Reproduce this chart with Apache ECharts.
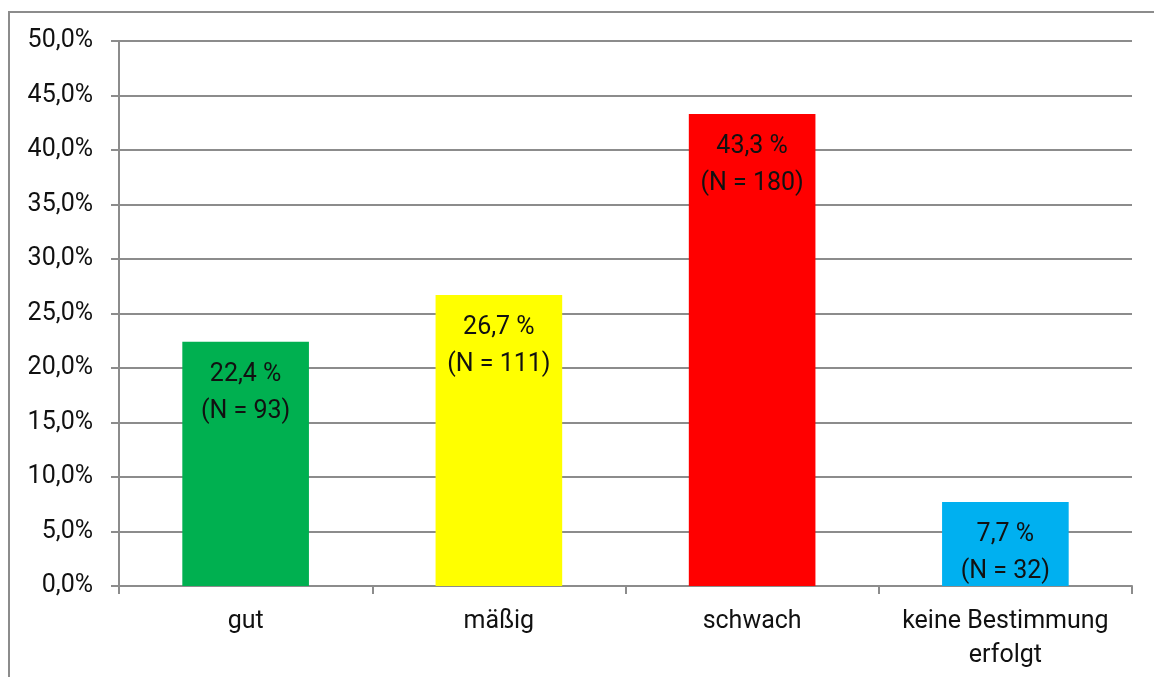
<!DOCTYPE html>
<html><head><meta charset="utf-8">
<script src="https://cdn.jsdelivr.net/npm/echarts@6/dist/echarts.min.js"></script>
<style>html,body{margin:0;padding:0;background:#fff}#c{width:1154px;height:677px}</style>
</head><body><div id="c"></div>
<script>
const categories = ['gut', 'mäßig', 'schwach', 'keine Bestimmung\nerfolgt'];
const percentValues = [22.4, 26.7, 43.3, 7.7];
const counts = [93, 111, 180, 32];
const barColors = ['#00B050', '#FFFF00', '#FF0000', '#00B0F0'];

const chart = echarts.init(document.getElementById('c'), null, {renderer: 'canvas'});
const font = 'Roboto, "Liberation Sans", sans-serif';
const fmt = v => v.toFixed(1).replace('.', ',');
chart.setOption({
  animation: false,
  backgroundColor: '#fff',
  graphic: [{
    type: 'rect', shape: {x: 9, y: 12, width: 1300, height: 800},
    style: {fill: 'none', stroke: '#8c8c8c', lineWidth: 2}, silent: true
  }],
  grid: {left: 119, right: 22, top: 41, bottom: 91},
  xAxis: {
    type: 'category', data: categories,
    axisLine: {lineStyle: {color: '#8c8c8c', width: 2}},
    axisTick: {show: true, length: 8, lineStyle: {color: '#8c8c8c', width: 2}},
    axisLabel: {color: '#111', fontSize: 25, fontFamily: font, margin: 19, lineHeight: 34,
      interval: 0, hideOverlap: false}
  },
  yAxis: {
    type: 'value', min: 0, max: 50, interval: 5,
    axisLine: {show: true, lineStyle: {color: '#8c8c8c', width: 2}},
    axisTick: {show: true, length: 8, lineStyle: {color: '#8c8c8c', width: 2}},
    splitLine: {lineStyle: {color: '#8c8c8c', width: 2}},
    axisLabel: {color: '#111', fontSize: 25, fontFamily: font, margin: 26,
      formatter: v => fmt(v) + '%'}
  },
  series: [{
    type: 'bar', barWidth: '50%',
    data: percentValues.map((v, i) => ({value: v, itemStyle: {color: barColors[i]}})),
    label: {
      show: true, position: 'insideTop', distance: 14,
      color: '#111', fontSize: 25, fontFamily: font, lineHeight: 37,
      formatter: p => fmt(p.value) + ' %\n(N = ' + counts[p.dataIndex] + ')'
    }
  }]
});
</script></body></html>
